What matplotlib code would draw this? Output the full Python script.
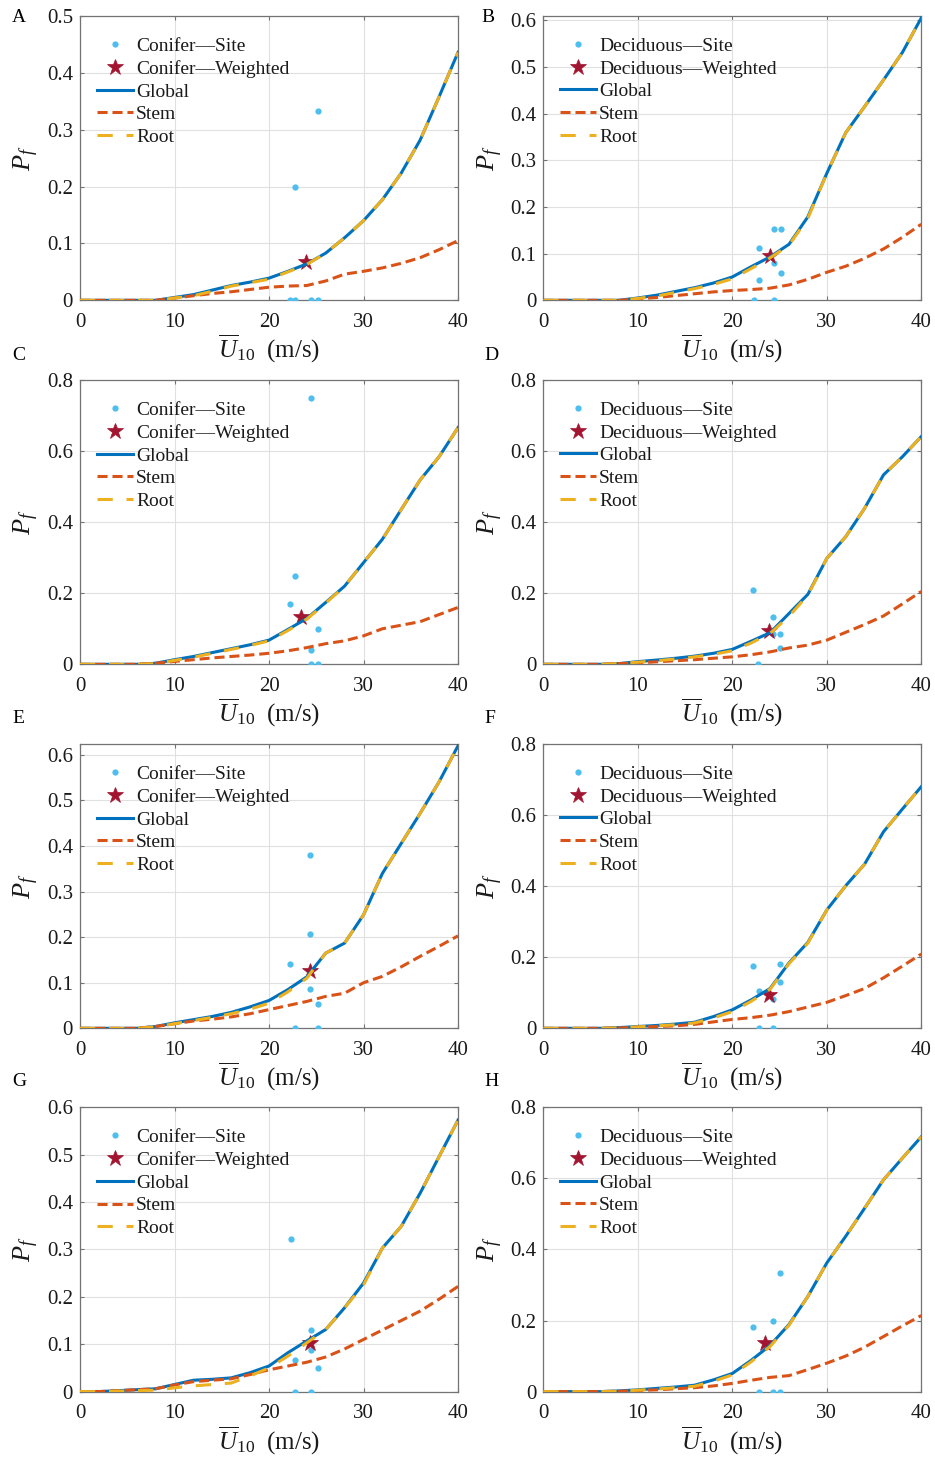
import matplotlib
matplotlib.use("Agg")
import matplotlib.pyplot as plt
from matplotlib.ticker import FuncFormatter
import numpy as np

plt.rcParams['font.family'] = ['Liberation Serif', 'DejaVu Serif']
plt.rcParams['mathtext.fontset'] = 'custom'
plt.rcParams['mathtext.rm'] = 'Liberation Serif'
plt.rcParams['mathtext.it'] = 'Liberation Serif:italic'
plt.rcParams['mathtext.bf'] = 'Liberation Serif:bold'

# ---------------- data ----------------
U10 = [0, 2, 4, 6, 8, 10, 12, 14, 16, 18, 20, 22, 24, 26, 28, 30, 32, 34, 36, 38, 40]

panel_labels = ['A', 'B', 'C', 'D', 'E', 'F', 'G', 'H']
forest_types = ['Conifer', 'Deciduous', 'Conifer', 'Deciduous',
                'Conifer', 'Deciduous', 'Conifer', 'Deciduous']

A_global = [0, 0, 0, 0, 0, 0.005, 0.010, 0.018, 0.026, 0.032, 0.039, 0.051, 0.064, 0.083, 0.110, 0.140, 0.177, 0.224, 0.282, 0.358, 0.436]
A_stem   = [0, 0, 0, 0, 0, 0.004, 0.008, 0.012, 0.015, 0.019, 0.023, 0.025, 0.026, 0.034, 0.046, 0.051, 0.057, 0.065, 0.075, 0.089, 0.105]
A_root   = [0, 0, 0, 0, 0, 0.004, 0.008, 0.016, 0.025, 0.031, 0.037, 0.050, 0.063, 0.083, 0.110, 0.140, 0.177, 0.224, 0.282, 0.358, 0.436]
A_site_x = [22.2, 22.8, 24.4, 25.2, 22.8, 25.2]
A_site_y = [0, 0, 0, 0, 0.199, 0.333]
A_star = [23.9, 0.067]

B_global = [0, 0, 0, 0, 0, 0.005, 0.011, 0.019, 0.027, 0.037, 0.050, 0.072, 0.093, 0.120, 0.179, 0.272, 0.359, 0.415, 0.472, 0.531, 0.605]
B_stem   = [0, 0, 0, 0, 0, 0.003, 0.006, 0.010, 0.014, 0.018, 0.021, 0.023, 0.026, 0.033, 0.045, 0.060, 0.073, 0.090, 0.110, 0.135, 0.163]
B_root   = [0, 0, 0, 0, 0, 0.004, 0.009, 0.017, 0.025, 0.034, 0.046, 0.068, 0.091, 0.118, 0.176, 0.272, 0.359, 0.415, 0.472, 0.531, 0.605]
B_site_x = [22.3, 22.8, 22.8, 24.4, 25.2, 24.4, 25.2, 24.4]
B_site_y = [0, 0.111, 0.043, 0.153, 0.153, 0.079, 0.059, 0]
B_star = [24.0, 0.094]

C_global = [0, 0, 0, 0, 0.003, 0.013, 0.022, 0.033, 0.044, 0.055, 0.068, 0.098, 0.129, 0.174, 0.220, 0.286, 0.352, 0.436, 0.519, 0.584, 0.666]
C_stem   = [0, 0, 0, 0, 0.003, 0.008, 0.013, 0.018, 0.022, 0.026, 0.031, 0.038, 0.047, 0.058, 0.066, 0.080, 0.100, 0.110, 0.120, 0.140, 0.160]
C_root   = [0, 0, 0, 0, 0.002, 0.011, 0.020, 0.031, 0.042, 0.053, 0.066, 0.095, 0.127, 0.172, 0.220, 0.286, 0.352, 0.436, 0.519, 0.584, 0.666]
C_site_x = [24.4, 22.8, 22.2, 25.2, 24.4, 24.4, 25.2]
C_site_y = [0.75, 0.249, 0.169, 0.098, 0.040, 0, 0]
C_star = [23.4, 0.134]

D_global = [0, 0, 0, 0, 0.002, 0.0075, 0.012, 0.017, 0.023, 0.031, 0.042, 0.065, 0.089, 0.143, 0.197, 0.298, 0.359, 0.439, 0.533, 0.584, 0.641]
D_stem   = [0, 0, 0, 0, 0.002, 0.004, 0.007, 0.010, 0.013, 0.017, 0.021, 0.027, 0.035, 0.046, 0.054, 0.068, 0.090, 0.112, 0.136, 0.170, 0.205]
D_root   = [0, 0, 0, 0, 0.002, 0.006, 0.010, 0.015, 0.021, 0.028, 0.038, 0.060, 0.087, 0.135, 0.195, 0.298, 0.359, 0.439, 0.533, 0.584, 0.641]
D_site_x = [22.2, 24.3, 25.1, 24.3, 25.1, 22.7]
D_site_y = [0.209, 0.132, 0.085, 0.085, 0.045, 0]
D_star = [23.9, 0.095]

E_global = [0, 0, 0, 0, 0.004, 0.012, 0.019, 0.026, 0.035, 0.047, 0.061, 0.085, 0.113, 0.165, 0.187, 0.249, 0.340, 0.406, 0.472, 0.541, 0.620]
E_stem   = [0, 0, 0, 0, 0.004, 0.010, 0.016, 0.020, 0.025, 0.032, 0.041, 0.050, 0.059, 0.070, 0.077, 0.100, 0.114, 0.135, 0.158, 0.180, 0.203]
E_root   = [0, 0, 0, 0, 0.003, 0.010, 0.017, 0.024, 0.032, 0.042, 0.055, 0.080, 0.110, 0.165, 0.187, 0.249, 0.340, 0.406, 0.472, 0.541, 0.620]
E_site_x = [24.3, 24.3, 22.2, 24.3, 25.2, 22.75, 25.2]
E_site_y = [0.380, 0.208, 0.142, 0.086, 0.054, 0, 0]
E_star = [24.3, 0.126]

F_global = [0, 0, 0, 0, 0.002, 0.005, 0.008, 0.012, 0.017, 0.033, 0.052, 0.080, 0.112, 0.184, 0.242, 0.333, 0.401, 0.462, 0.553, 0.617, 0.680]
F_stem   = [0, 0, 0, 0, 0.001, 0.003, 0.005, 0.007, 0.011, 0.018, 0.025, 0.030, 0.037, 0.047, 0.060, 0.073, 0.092, 0.112, 0.142, 0.175, 0.209]
F_root   = [0, 0, 0, 0, 0.001, 0.004, 0.007, 0.010, 0.015, 0.029, 0.047, 0.076, 0.110, 0.182, 0.240, 0.333, 0.401, 0.462, 0.553, 0.617, 0.680]
F_site_x = [22.2, 25.1, 25.1, 22.8, 24.3, 22.8, 24.3]
F_site_y = [0.176, 0.181, 0.131, 0.104, 0.083, 0, 0]
F_star = [23.9, 0.094]

G_global = [0, 0, 0.002, 0.004, 0.006, 0.015, 0.024, 0.026, 0.029, 0.040, 0.054, 0.082, 0.107, 0.131, 0.177, 0.229, 0.303, 0.349, 0.419, 0.496, 0.573]
G_stem   = [0, 0, 0.002, 0.004, 0.006, 0.014, 0.021, 0.024, 0.027, 0.036, 0.046, 0.054, 0.062, 0.073, 0.090, 0.110, 0.130, 0.150, 0.170, 0.195, 0.222]
G_root   = [0, 0, 0.001, 0.002, 0.003, 0.008, 0.012, 0.015, 0.018, 0.033, 0.050, 0.075, 0.103, 0.131, 0.177, 0.225, 0.303, 0.349, 0.419, 0.496, 0.573]
G_site_x = [22.3, 24.4, 24.4, 22.8, 25.2, 22.8, 24.4]
G_site_y = [0.321, 0.131, 0.087, 0.067, 0.050, 0, 0]
G_star = [24.3, 0.103]

H_global = [0, 0, 0, 0, 0.002, 0.005, 0.009, 0.013, 0.018, 0.033, 0.051, 0.088, 0.130, 0.189, 0.268, 0.362, 0.437, 0.516, 0.596, 0.657, 0.717]
H_stem   = [0, 0, 0, 0, 0.001, 0.003, 0.005, 0.008, 0.011, 0.016, 0.023, 0.032, 0.040, 0.045, 0.062, 0.080, 0.100, 0.125, 0.155, 0.185, 0.214]
H_root   = [0, 0, 0, 0, 0.001, 0.004, 0.007, 0.011, 0.015, 0.029, 0.047, 0.084, 0.127, 0.187, 0.268, 0.362, 0.437, 0.516, 0.596, 0.657, 0.717]
H_site_x = [25.1, 24.35, 22.2, 22.8, 24.35, 25.1]
H_site_y = [0.333, 0.200, 0.181, 0, 0, 0]
H_star = [23.5, 0.136]

y_max = [0.5, 0.609, 0.8, 0.8, 0.624, 0.8, 0.6, 0.8]
y_step = [0.1, 0.1, 0.2, 0.2, 0.1, 0.2, 0.1, 0.2]
x_ticks = [0, 10, 20, 30, 40]

panels = [
    (A_global, A_stem, A_root, A_site_x, A_site_y, A_star),
    (B_global, B_stem, B_root, B_site_x, B_site_y, B_star),
    (C_global, C_stem, C_root, C_site_x, C_site_y, C_star),
    (D_global, D_stem, D_root, D_site_x, D_site_y, D_star),
    (E_global, E_stem, E_root, E_site_x, E_site_y, E_star),
    (F_global, F_stem, F_root, F_site_x, F_site_y, F_star),
    (G_global, G_stem, G_root, G_site_x, G_site_y, G_star),
    (H_global, H_stem, H_root, H_site_x, H_site_y, H_star),
]

# ---------------- styling ----------------
c_global = (0.0, 0.447, 0.741)
c_stem = (0.850, 0.325, 0.098)
c_root = (0.929, 0.694, 0.125)
c_site = (0.30, 0.745, 0.933)
c_star = (0.635, 0.078, 0.184)

W, H = 935, 1457
fig = plt.figure(figsize=(W / 100, H / 100), dpi=100)

col_left = [80, 543.3]
row_top = [16, 380, 744, 1107.3]
ax_w, ax_h = 378, 284.3
letter_pos = [(12, 9), (481, 9), (12, 347), (484, 347), (12, 710), (484, 710), (12, 1073), (484, 1073)]

fmt = FuncFormatter(lambda v, p: '0' if abs(v) < 1e-9 else ('%g' % round(v, 3)))

for i, (g, s, r, sx, sy, st) in enumerate(panels):
    row, col = divmod(i, 2)
    left = col_left[col] / W
    bottom = 1 - (row_top[row] + ax_h) / H
    ax = fig.add_axes([left, bottom, ax_w / W, ax_h / H])

    ft = forest_types[i]
    ax.plot(sx, sy, 'o', ls='none', color=c_site, markersize=4.5, markeredgewidth=0,
            label=f'{ft}\u2014Site', zorder=3)
    ax.plot([st[0]], [st[1]], '*', ls='none', color=c_star, markersize=12, markeredgewidth=0.5,
            markeredgecolor=c_star, label=f'{ft}\u2014Weighted', zorder=3)
    ax.plot(U10, g, '-', color=c_global, lw=2.2, label='Global', zorder=4)
    ax.plot(U10, s, color=c_stem, lw=2.2, dashes=(3.3, 1.6), label='Stem', zorder=5)
    ax.plot(U10, r, color=c_root, lw=2.2, dashes=(5.0, 4.5), label='Root', zorder=6)

    ax.set_xlim(0, 40)
    ax.set_ylim(0, y_max[i])
    ax.set_xticks(x_ticks)
    ax.set_yticks(np.arange(0, y_max[i] + 1e-6, y_step[i]))
    ax.yaxis.set_major_formatter(fmt)
    ax.grid(True, color=(0.88, 0.88, 0.88), lw=0.8)
    ax.set_axisbelow(True)
    for sp in ax.spines.values():
        sp.set_color((0.45, 0.45, 0.45))
        sp.set_linewidth(0.9)
    ax.tick_params(direction='in', length=3, width=0.8, color=(0.45, 0.45, 0.45),
                   top=True, right=True, labelsize=15, labelcolor=(0.1, 0.1, 0.1))
    ax.tick_params(axis='x', pad=9)
    ax.tick_params(axis='y', pad=5)

    ax.set_xlabel(r'$\overline{U}_{10}\ \ \mathrm{(m/s)}$', fontsize=18, labelpad=1,
                  color=(0.1, 0.1, 0.1))
    ax.set_ylabel(r'$P_f$', fontsize=19, labelpad=4, color=(0.1, 0.1, 0.1))

    leg = ax.legend(loc='upper left', bbox_to_anchor=(0.045, 0.925), frameon=False,
                    fontsize=14, handlelength=1.85, handletextpad=0.15, labelspacing=0.26,
                    borderpad=0, borderaxespad=0)
    for t in leg.get_texts():
        t.set_color((0.1, 0.1, 0.1))

    lx, ly = letter_pos[i]
    fig.text(lx / W, 1 - ly / H, panel_labels[i], fontsize=14, va='top', ha='left')

fig.savefig('out.png', dpi=100)
